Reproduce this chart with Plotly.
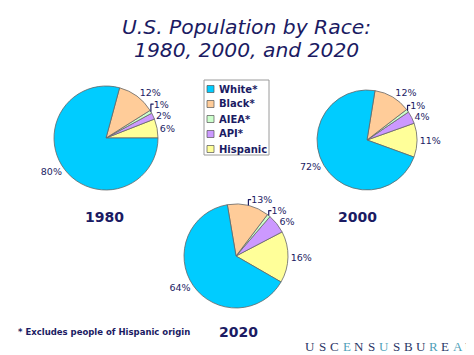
import plotly.graph_objects as go

categories = ["Hispanic", "API*", "AIEA*", "Black*", "White*"]
colors = ["#FFFF99", "#CC99FF", "#CCFFCC", "#FFCC99", "#00CCFF"]
values_1980 = [6, 2, 1, 12, 80]
values_2000 = [11, 4, 1, 12, 72]
values_2020 = [16, 6, 1, 13, 64]
years = ["1980", "2000", "2020"]
legend_order = ["White*", "Black*", "AIEA*", "API*", "Hispanic"]

OFF = 8  # page body margin
W, H = 474 - OFF, 355 - OFF
NAVY = "#1b1b63"

def px(x):
    return (x - OFF) / W

def py(y):
    return 1 - (y - OFF) / H

def dom(cx, cy, r):
    return dict(x=[px(cx - r), px(cx + r)], y=[py(cy + r), py(cy - r)])

def rot(start_deg, vals):
    f = vals[0] / sum(vals) * 360
    return 90 - start_deg - f

pies = [
    (values_1980, dom(106, 138, 52), rot(0, values_1980)),
    (values_2000, dom(367, 140, 50), rot(-20, values_2000)),
    (values_2020, dom(236, 256, 52), rot(-30, values_2020)),
]

fig = go.Figure()
for vals, d, r in pies:
    fig.add_trace(go.Pie(
        labels=categories, values=vals, domain=d, sort=False,
        direction="counterclockwise", rotation=r,
        marker=dict(colors=colors, line=dict(color="#666666", width=0.8)),
        texttemplate="%{value}%", textposition="outside",
        textfont=dict(family="DejaVu Sans", size=9.5, color=NAVY),
        showlegend=False, hoverinfo="label+value",
    ))

annotations = []
def add_text(x, y, text, size, family="DejaVu Sans", xanchor="center", color=NAVY):
    annotations.append(dict(
        x=px(x), y=py(y), xref="paper", yref="paper", text=text, showarrow=False,
        xanchor=xanchor, yanchor="middle",
        font=dict(family=family, size=size, color=color),
    ))

add_text(246, 27, "<i>U.S. Population by Race:</i>", 20.3)
add_text(246, 50, "<i>1980, 2000, and 2020</i>", 20.3)
add_text(104, 217, "<b>" + years[0] + "</b>", 14)
add_text(357, 217, "<b>" + years[1] + "</b>", 14)
add_text(238, 332, "<b>" + years[2] + "</b>", 14)
add_text(16, 332, "<b>* Excludes people of Hispanic origin</b>", 8.5, xanchor="left")

# custom legend
shapes = [dict(type="rect", xref="paper", yref="paper",
               x0=px(204), x1=px(269), y0=py(155), y1=py(80),
               line=dict(color="#9a9a9a", width=1), fillcolor="white", layer="below")]
for i, lab in enumerate(legend_order):
    cy = 89 + i * 15
    col = colors[categories.index(lab)]
    shapes.append(dict(type="rect", xref="paper", yref="paper",
                       x0=px(207), x1=px(214), y0=py(cy + 3.5), y1=py(cy - 3.5),
                       line=dict(color="#555555", width=0.7), fillcolor=col))
    add_text(217, cy, "<b>" + lab + "</b>", 10, xanchor="left")

# logo
logo_letters = list("USCENSUSBUREAU")
DK, LT = "#2b3766", "#4f9fb8"
logo_colors = [DK, DK, DK, LT, DK, DK, LT, DK, DK, DK, LT, DK, LT, DK]
for i, (l, c) in enumerate(zip(logo_letters, logo_colors)):
    add_text(310 + i * 12.3, 346.5, l, 13, family="Liberation Serif", color=c)

fig.update_layout(
    width=W, height=H, margin=dict(l=0, r=0, t=0, b=0),
    paper_bgcolor="white", plot_bgcolor="white",
    annotations=annotations, shapes=shapes, showlegend=False,
)
fig.write_html("out.html")
